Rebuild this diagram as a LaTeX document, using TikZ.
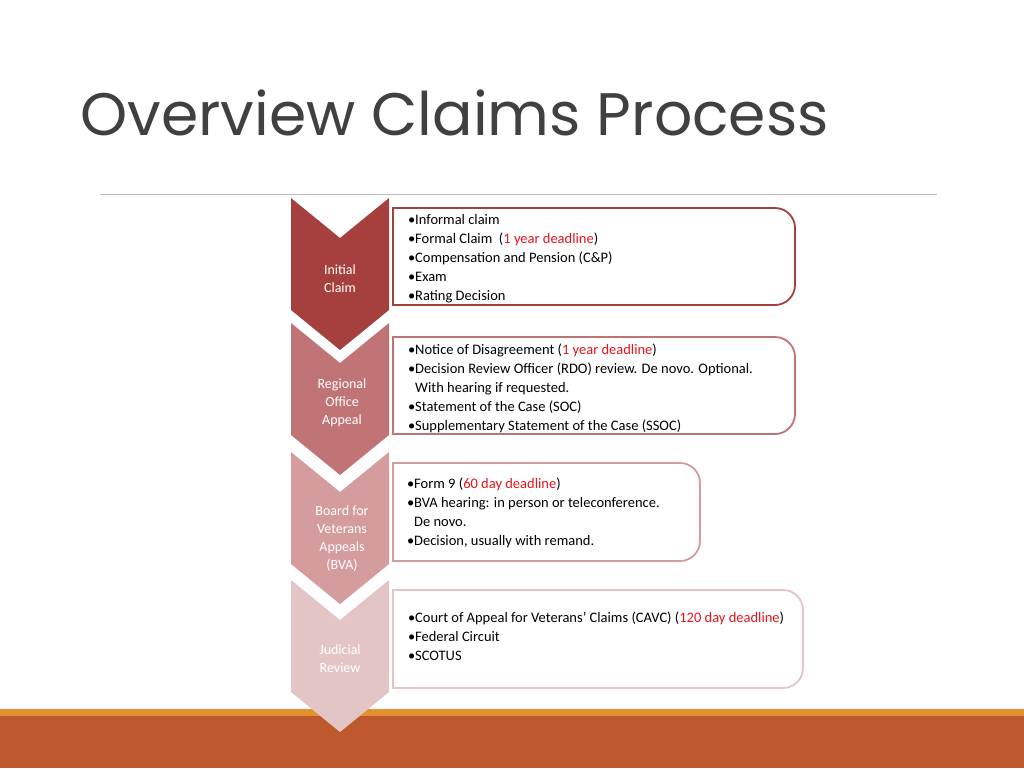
\documentclass[tikz,border=0pt]{standalone}
\usepackage{fontspec}
\setmainfont{Carlito}
\newfontfamily\titlefont{Poppins}
\definecolor{cA}{HTML}{A5403F}
\definecolor{cB}{HTML}{C17476}
\definecolor{cC}{HTML}{D49C9D}
\definecolor{cD}{HTML}{E4C5C6}
\definecolor{dl}{HTML}{E8141C}
\definecolor{tg}{HTML}{404040}
\definecolor{barO}{HTML}{E2912E}
\definecolor{barD}{HTML}{BE592D}
\tikzset{
  lab/.style={text=white, align=center, font=\fontsize{14}{18}\selectfont},
  txt/.style={anchor=north west, align=left, text=black, font=\fontsize{14.5}{19}\selectfont, inner sep=0pt}
}
\newcommand{\chevron}[2]{% top y, color
  \fill[#2] (291,#1) -- (340,{#1+40}) -- (389,#1) -- (389,{#1+112}) -- (340,{#1+152}) -- (291,{#1+112}) -- cycle;
}
\newcommand{\roundbox}[5]{% x1,y1,x2,y2,color
  \draw[line width=1.8pt, draw=#5, fill=white] (#1,#2) -- ({#3-20},#2) arc[start angle=90,end angle=0,x radius=20,y radius=-20] -- (#3,{#4-20}) arc[start angle=0,end angle=-90,x radius=20,y radius=-20] -- (#1,#4) -- cycle;
}
\newcommand{\bul}{\makebox[7pt][l]{•}}
\begin{document}
\begin{tikzpicture}[x=1pt,y=-1pt]
\useasboundingbox (0,0) rectangle (1024,768);
\fill[white] (0,0) rectangle (1024,768);
\node[anchor=base west, inner sep=0pt, text=tg, font=\titlefont\fontsize{60}{66}\selectfont] (title) at (80,135) {Overview Claims Process};
\draw[gray!50, line width=0.8pt] (100,194) coordinate (l1) -- (937,194) coordinate (l2);
\fill[barO] (0,709) rectangle (1024,716);
\fill[barD] (0,716) rectangle (1024,768);
\chevron{580}{cD}
\chevron{452}{cC}
\chevron{323}{cB}
\chevron{198}{cA}
\node[lab] (c1) at (340,279) {Initial\\Claim};
\node[lab] (c2) at (342,403) {Regional\\Office\\Appeal};
\node[lab] (c3) at (342,539) {Board for\\Veterans\\Appeals\\(BVA)};
\node[lab] (c4) at (340,659) {Judicial\\Review};
\roundbox{393}{208}{795}{305}{cA}
\roundbox{393}{337}{795}{434}{cB}
\roundbox{393}{463}{700}{561}{cC}
\roundbox{393}{590}{803}{688}{cD}
\node[txt] (t1) at (408,214) {\bul Informal claim\\\bul Formal Claim \ (\textcolor{dl}{1 year deadline})\\\bul Compensation and Pension (C\&P)\\\bul\phantom{}Exam\\\bul Rating Decision};
\node[txt] (t2) at (408,344) {\bul Notice of Disagreement (\textcolor{dl}{1 year deadline})\\\bul Decision Review Officer (RDO) review. De novo. Optional.\\\hspace*{7pt}With hearing if requested.\\\bul Statement of the Case (SOC)\\\bul Supplementary Statement of the Case (SSOC)};
\node[txt] (t3) at (407,478) {\bul Form 9 (\textcolor{dl}{60 day deadline})\\\bul BVA hearing: in person or teleconference.\\\hspace*{7pt}De novo.\\\bul Decision, usually with remand.};
\node[txt] (t4) at (408,612) {\bul Court of Appeal for Veterans’ Claims (CAVC) (\textcolor{dl}{120 day deadline})\\\bul Federal Circuit\\\bul SCOTUS};
\end{tikzpicture}
\end{document}
